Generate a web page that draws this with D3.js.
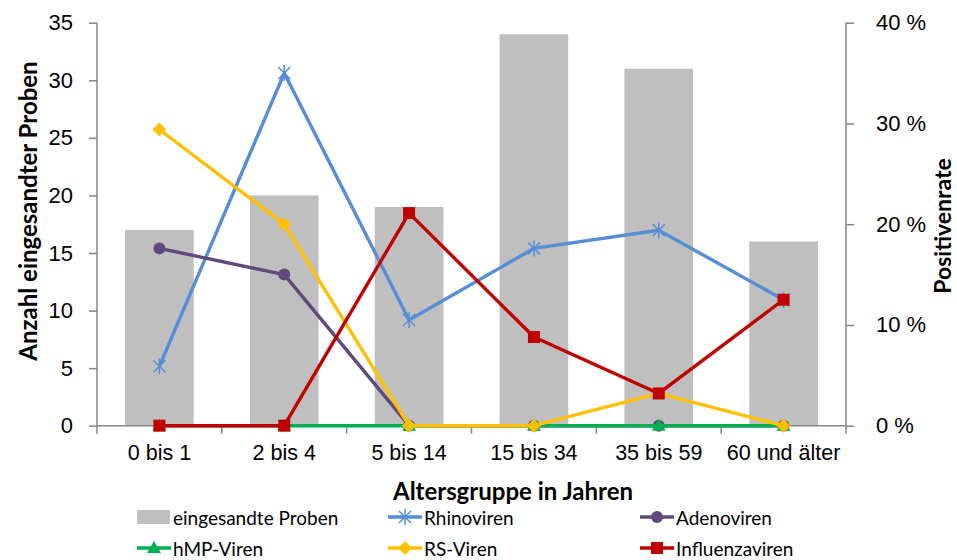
<!DOCTYPE html>
<html>
  <head>
    <meta charset="utf-8"/>
    <title>Proben und Positivenrate nach Altersgruppe</title>
    <style type="text/css">
body {
  margin: 0;
  font-family: Lato, "Open Sans", sans-serif;
  background: #fff;
}
.axis path, .axis line {
  stroke: #868686;
  stroke-width: 1.5;
}
.axis text {
  fill: #000;
}
    </style>
  </head>
  <body>
    <div id="chart"></div>
    <script src="https://cdn.jsdelivr.net/npm/d3@7"></script>
    <script>
    // data
    const groups = ["0 bis 1", "2 bis 4", "5 bis 14", "15 bis 34", "35 bis 59", "60 und älter"];
    const proben = [17, 20, 19, 34, 31, 16];
    const rhino = [5.9, 35.0, 10.5, 17.6, 19.4, 12.5];
    const adeno = [17.6, 15.0, 0, 0, 0, 0];
    const hmp = [0, 0, 0, 0, 0, 0];
    const rsv = [29.4, 20.0, 0, 0, 3.2, 0];
    const influenza = [0, 0, 21.1, 8.8, 3.2, 12.5];
    const leftTicks = [0, 5, 10, 15, 20, 25, 30, 35];
    const rightTicks = [0, 10, 20, 30, 40];

    const series = [
      {name: "Rhinoviren", values: rhino, color: "#558ED5", marker: "star"},
      {name: "Adenoviren", values: adeno, color: "#604A7B", marker: "circle"},
      {name: "hMP-Viren", values: hmp, color: "#00B050", marker: "triangle"},
      {name: "RS-Viren", values: rsv, color: "#FFC000", marker: "diamond"},
      {name: "Influenzaviren", values: influenza, color: "#C00000", marker: "square"}
    ];

    const width = 957, height = 560;
    const x0 = 97, x1 = 846, y0 = 425.7, y1 = 22.7;

    const svg = d3.select("#chart").append("svg")
        .attr("width", width)
        .attr("height", height);

    const x = d3.scaleBand().domain(groups).range([x0, x1]).paddingInner(0.45).paddingOuter(0.225);
    const xb = d3.scaleBand().domain(groups).range([x0, x1]);
    const yL = d3.scaleLinear().domain([0, 35]).range([y0, y1]);
    const yR = d3.scaleLinear().domain([0, 40]).range([y0, y1]);

    // bars
    svg.selectAll(".bar")
        .data(proben)
        .enter()
        .append("rect")
        .attr("class", "bar")
        .attr("x", (d, i) => x(groups[i]))
        .attr("width", x.bandwidth())
        .attr("y", d => yL(d))
        .attr("height", d => y0 - yL(d))
        .attr("fill", "#BFBFBF");

    // axes
    const gL = svg.append("g").attr("class", "axis")
        .attr("transform", `translate(${x0},0)`)
        .call(d3.axisLeft(yL).tickValues(leftTicks).tickSize(8).tickPadding(16));
    gL.select(".domain").attr("d", `M0,${y1}V${y0}`);
    gL.selectAll("text").style("font-size", "22px");

    const gR = svg.append("g").attr("class", "axis")
        .attr("transform", `translate(${x1},0)`)
        .call(d3.axisRight(yR).tickValues(rightTicks).tickSize(8).tickPadding(22).tickFormat(d => d + " %"));
    gR.select(".domain").attr("d", `M0,${y1}V${y0}`);
    gR.selectAll("text").style("font-size", "22px");

    const gX = svg.append("g").attr("class", "axis")
        .attr("transform", `translate(0,${y0})`)
        .call(d3.axisBottom(xb).tickSize(0).tickPadding(19));
    gX.select(".domain").attr("d", `M${x0},0H${x1}`);
    gX.selectAll("text").style("font-size", "21.5px");
    gX.selectAll(".bound")
        .data(d3.range(groups.length + 1))
        .enter()
        .append("line")
        .attr("x1", i => x0 + i * xb.step())
        .attr("x2", i => x0 + i * xb.step())
        .attr("y1", 0)
        .attr("y2", 8);

    // axis titles
    svg.append("text")
        .attr("transform", "translate(27,211) rotate(-90)")
        .attr("text-anchor", "middle")
        .attr("dominant-baseline", "central")
        .style("font-size", "24px").style("font-weight", "bold")
        .text("Anzahl eingesandter Proben");
    svg.append("text")
        .attr("transform", "translate(942,226) rotate(-90)")
        .attr("text-anchor", "middle")
        .attr("dominant-baseline", "central")
        .style("font-size", "23px").style("font-weight", "bold")
        .text("Positivenrate");
    svg.append("text")
        .attr("x", 513).attr("y", 500)
        .attr("text-anchor", "middle")
        .style("font-size", "24px").style("font-weight", "bold")
        .text("Altersgruppe in Jahren");

    // markers
    function drawMarker(g, type, color) {
      if (type == "star") {
        g.append("path")
          .attr("d", "M-6,-6L6,6M-6,6L6,-6M0,-8V8")
          .attr("stroke", color).attr("stroke-width", 1.5).attr("fill", "none");
      } else if (type == "circle") {
        g.append("circle").attr("r", 6).attr("fill", color);
      } else if (type == "triangle") {
        g.append("path").attr("d", "M0,-7L7,5H-7Z").attr("fill", color);
      } else if (type == "diamond") {
        g.append("path").attr("d", "M0,-7L7,0L0,7L-7,0Z").attr("fill", color);
      } else if (type == "square") {
        g.append("rect").attr("x", -6).attr("y", -6).attr("width", 12).attr("height", 12).attr("fill", color);
      }
    }

    const line = d3.line()
        .x((d, i) => xb(groups[i]) + xb.bandwidth() / 2)
        .y(d => yR(d));

    series.forEach(s => {
      svg.append("path")
        .attr("d", line(s.values))
        .attr("fill", "none")
        .attr("stroke", s.color)
        .attr("stroke-width", 3.4)
        .attr("stroke-linejoin", "round");
      s.values.forEach((v, i) => {
        const g = svg.append("g")
          .attr("transform", `translate(${xb(groups[i]) + xb.bandwidth() / 2},${yR(v)})`);
        drawMarker(g, s.marker, s.color);
      });
    });

    // legend
    const legendItems = [{name: "eingesandte Proben", bar: true}].concat(series);
    const legX = [137, 388, 640], legY = [517, 548];
    legendItems.forEach((d, i) => {
      const lx = legX[i % 3], ly = legY[Math.floor(i / 3)];
      const g = svg.append("g").attr("transform", `translate(${lx},${ly})`);
      if (d.bar) {
        g.append("rect").attr("x", 0).attr("y", -7).attr("width", 33).attr("height", 14).attr("fill", "#BFBFBF");
      } else {
        g.append("line").attr("x1", 0).attr("x2", 34).attr("stroke", d.color).attr("stroke-width", 3.4);
        const m = g.append("g").attr("transform", "translate(17,0)");
        drawMarker(m, d.marker, d.color);
      }
      g.append("text")
        .attr("x", 36)
        .attr("dominant-baseline", "central")
        .style("font-size", "19px")
        .text(d.name);
    });
    </script>
  </body>
</html>
